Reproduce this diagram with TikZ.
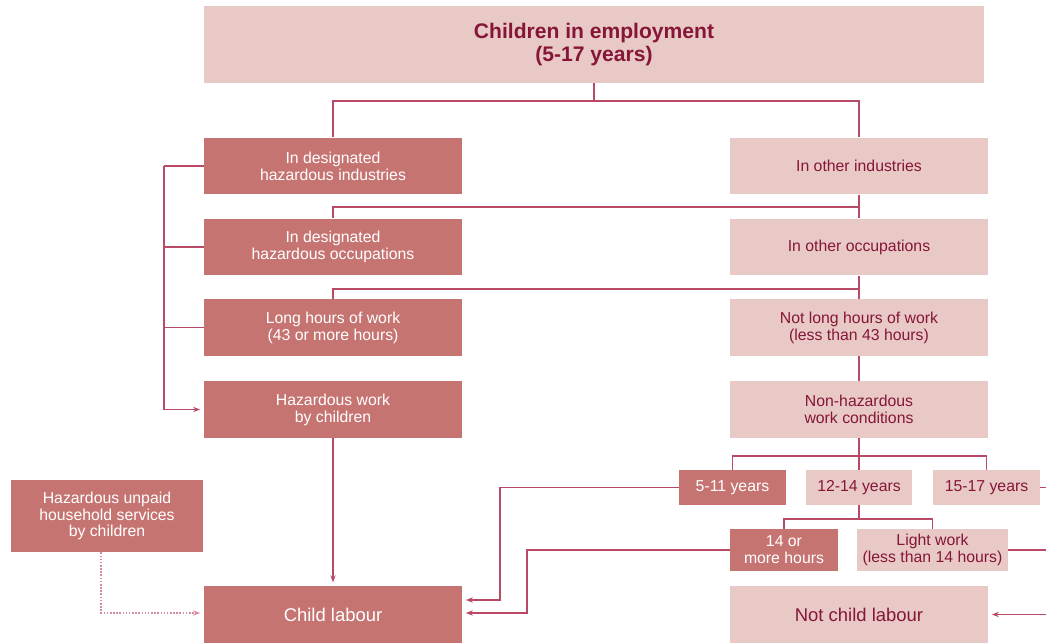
\documentclass[tikz,border=0pt]{standalone}
\usepackage{fontspec}
\setmainfont{Liberation Sans}
\usetikzlibrary{arrows.meta}

\definecolor{darkfill}{HTML}{C67472}
\definecolor{lightfill}{HTML}{E8C9C6}
\definecolor{wine}{HTML}{861637}
\definecolor{linkcol}{HTML}{B84A66}
\definecolor{dotcol}{HTML}{D28DA0}

\begin{document}
\begin{tikzpicture}[x=0.02cm, y=-0.02cm,
            every node/.style = {shape=rectangle, inner sep=0pt, align=center,
                font=\fontsize{9}{9.6}\selectfont},
            darkbox/.style = {fill=darkfill, text=white},
            lightbox/.style = {fill=lightfill, text=wine},
            widebox/.style = {minimum width=5.16cm, minimum height=1.13cm},
            agebox/.style = {minimum width=2.14cm, minimum height=0.7cm},
            link/.style = {draw=linkcol, line width=0.8pt},
            arrow/.style = {link, -{Stealth[length=4pt,width=3pt]}, shorten >=2pt},
            dotarrow/.style = {draw=dotcol, line width=0.9pt,
                dash pattern=on 0.9pt off 0.9pt,
                -{Stealth[length=4pt,width=3pt]}, shorten >=2pt}]

            \useasboundingbox (0,0) rectangle (1046,643);

            % top of the tree
            \node[lightbox, minimum width=15.6cm, minimum height=1.54cm,
                font=\fontsize{12}{13.5}\selectfont\bfseries] (top) at (594,44.5)
                {\raisebox{-3pt}{\parbox{8cm}{\centering Children in employment\\(5-17 years)}}};

            % left column
            \node[darkbox, widebox] (hzind) at (333,166) {In designated\\hazardous industries};
            \node[darkbox, widebox] (hzocc) at (333,247) {In designated\\hazardous occupations};
            \node[darkbox, widebox] (longh) at (333,327.5) {Long hours of work\\(43 or more hours)};
            \node[darkbox, widebox] (hzwork) at (333,409.5) {Hazardous work\\by children};
            \node[darkbox, minimum width=3.84cm, minimum height=1.44cm] (unpaid) at (107,516)
                {Hazardous unpaid\\household services\\by children};
            \node[darkbox, widebox, font=\fontsize{10.5}{12}\selectfont] (child) at (333,614.5) {Child labour};

            % right column
            \node[lightbox, widebox] (othind) at (859,166) {In other industries};
            \node[lightbox, widebox] (othocc) at (859,247) {In other occupations};
            \node[lightbox, widebox] (notlong) at (859,327.5) {Not long hours of work\\(less than 43 hours)};
            \node[lightbox, widebox] (nonhz) at (859,409.5) {Non-hazardous\\work conditions};
            \node[darkbox, agebox] (a511) at (732.5,487.5) {5-11 years};
            \node[lightbox, agebox] (a1214) at (859,487.5) {12-14 years};
            \node[lightbox, agebox] (a1517) at (986.5,487.5) {15-17 years};
            \node[darkbox, minimum width=2.16cm, minimum height=0.84cm] (more14) at (784,550)
                {14 or\\more hours};
            \node[lightbox, minimum width=3.02cm, minimum height=0.84cm] (light) at (932.5,550)
                {Light work\\(less than 14 hours)};
            \node[lightbox, widebox, font=\fontsize{10.5}{12}\selectfont] (notchild) at (859,614.5) {Not child labour};

            % junctions
            \coordinate (j1) at (594,101);
            \coordinate (j2) at (859,207);
            \coordinate (j3) at (859,289);
            \coordinate (j4) at (859,456);
            \coordinate (j5) at (859,519);
            \coordinate (rail) at (164,166);
            \coordinate (k1) at (500,600);
            \coordinate (k2) at (527,613);
            \coordinate (k3) at (101,613);
            \coordinate (edge) at (1046,487.5);

            % tree connectors
            \draw[link] (top.south) -- (j1);
            \draw[link] (hzind.north) |- (j1) -| (othind.north);
            \draw[link] (othind.south) -- (othocc.north);
            \draw[link] (hzocc.north) |- (j2);
            \draw[link] (othocc.south) -- (notlong.north);
            \draw[link] (longh.north) |- (j3);
            \draw[link] (notlong.south) -- (nonhz.north);
            \draw[link] (nonhz.south) -- (a1214.north);
            \draw[link] (a511.north) |- (j4) -| (a1517.north);
            \draw[link] (a1214.south) -- (j5);
            \draw[link] (more14.north) |- (j5) -| (light.north);

            % left rail
            \draw[link] (hzind.west) -- (rail);
            \draw[arrow] (rail) |- (hzwork.west);
            \draw[link] (hzocc.west) -- (hzocc.west -| rail);
            \draw[link] (longh.west) -- (longh.west -| rail);

            % into child labour
            \draw[arrow] (hzwork.south) -- (child.north);
            \draw[arrow] (a511.west) -| (k1) -- (child.east |- k1);
            \draw[arrow] (more14.west) -| (k2) -- (child.east |- k2);
            \draw[dotarrow] (unpaid.south -| k3) -- (k3) -- (child.west |- k3);

            % off the right edge
            \draw[link] (a1517.east) -- (edge);
            \draw[link] (light.east) -- (light.east -| edge);
            \draw[arrow] (notchild.east -| edge) -- (notchild.east);

        \end{tikzpicture}
\end{document}
